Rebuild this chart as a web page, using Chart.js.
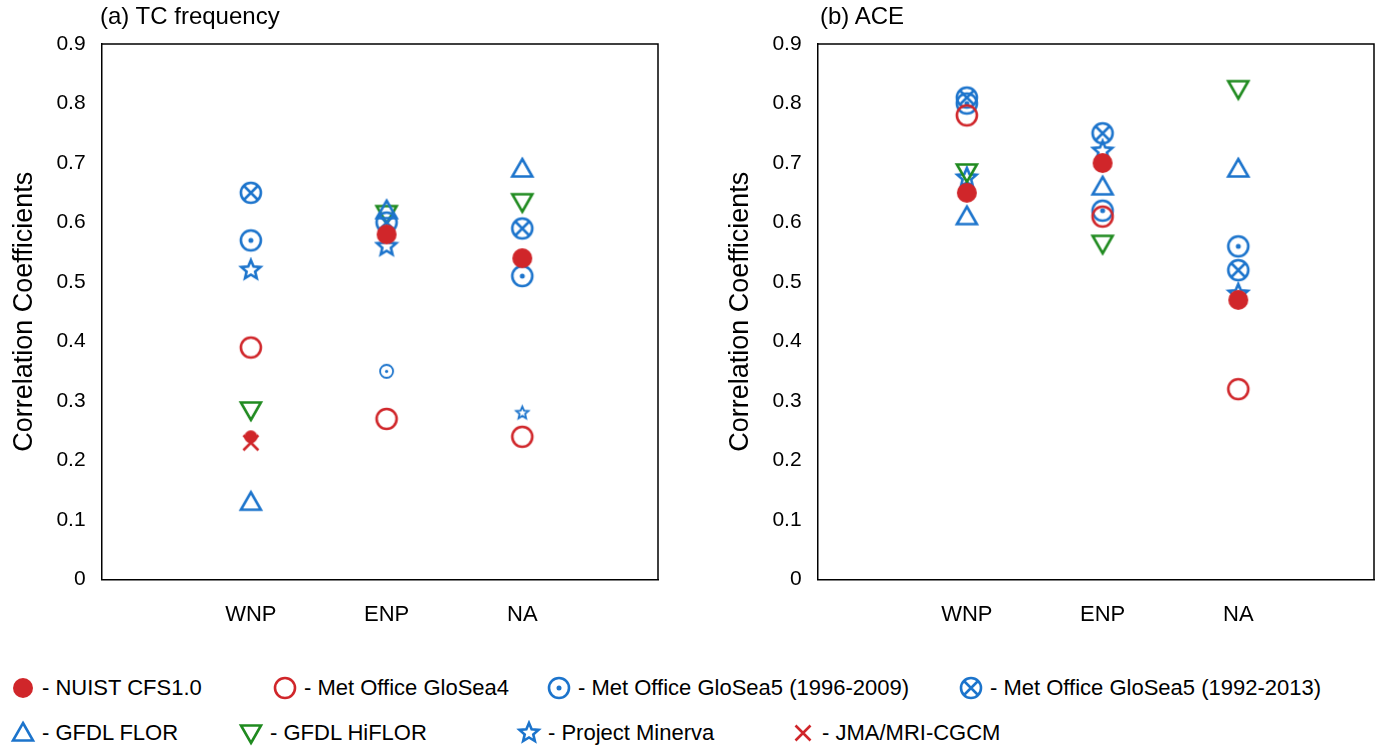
<!DOCTYPE html>
<html><head><meta charset="utf-8">
<script src="https://cdn.jsdelivr.net/npm/chart.js@4/dist/chart.umd.min.js"></script>
<style>
body{margin:0;background:#fff;font-family:"Liberation Sans",Arial,sans-serif;}
.box{position:absolute;top:0;height:650px;width:690px;}
.ttl{position:absolute;top:2px;font-size:24px;color:#000;}
.leg{position:absolute;font-size:22px;display:flex;align-items:center;white-space:nowrap;}
.leg canvas{margin-right:6px;}
</style></head><body>
<div class="box" style="left:0"><canvas id="ca"></canvas></div>
<div class="box" style="left:716px"><canvas id="cb"></canvas></div>
<div class="ttl" style="left:100px">(a) TC frequency</div>
<div class="ttl" style="left:820px">(b) ACE</div>
<div id="legend"></div>
<script>
// categories / models
let regions = ["WNP", "ENP", "NA"];
let models = ["NUIST CFS1.0", "Met Office GloSea4", "Met Office GloSea5 (1996-2009)", "Met Office GloSea5 (1992-2013)",
              "GFDL FLOR", "GFDL HiFLOR", "Project Minerva", "JMA/MRI-CGCM"];

// (a) TC frequency, values per model at WNP, ENP, NA
let freqCFS      = [0.24, 0.58, 0.54];
let freqGS4      = [0.39, 0.27, 0.24];
let freqGS5a     = [0.57, 0.35, 0.51];
let freqGS5b     = [0.65, 0.60, 0.59];
let freqFLOR     = [0.13, 0.62, 0.69];
let freqHiFLOR   = [0.285, 0.615, 0.635];
let freqMinerva  = [0.52, 0.56, 0.28];
let freqJMA      = [0.23, null, null];
// small (insignificant) markers in (a)
let freqSmall = {cfs: [true, false, false], gs5a: [false, true, false], minerva: [false, false, true]};

// (b) ACE
let aceCFS      = [0.65, 0.70, 0.47];
let aceGS4      = [0.78, 0.61, 0.32];
let aceGS5a     = [0.80, 0.62, 0.56];
let aceGS5b     = [0.81, 0.75, 0.52];
let aceFLOR     = [0.61, 0.66, 0.69];
let aceHiFLOR   = [0.685, 0.565, 0.825];
let aceMinerva  = [0.675, 0.72, 0.48];
let aceJMA      = [null, null, null];

let yTicks = [0, 0.1, 0.2, 0.3, 0.4, 0.5, 0.6, 0.7, 0.8, 0.9];

const BLUE = '#1c74cc', RED = '#d0262a', GREEN = '#1f8a1f';

let markerCache = {};
function marker(kind, color, r) {
    let key = kind + color + r;
    if (markerCache[key]) return markerCache[key];
    let s = Math.ceil(r * 2 + 6);
    let c = document.createElement('canvas');
    c.width = s; c.height = s;
    let g = c.getContext('2d');
    let m = s / 2;
    g.strokeStyle = color; g.fillStyle = color;
    g.lineWidth = r > 7 ? 2.6 : 1.8;
    g.beginPath();
    if (kind == 'dot') {
        g.arc(m, m, r, 0, Math.PI * 2); g.fill();
    } else if (kind == 'circle' || kind == 'cdot' || kind == 'cx') {
        g.arc(m, m, r, 0, Math.PI * 2); g.stroke();
        if (kind == 'cdot') { g.beginPath(); g.arc(m, m, r * 0.25, 0, Math.PI * 2); g.fill(); }
        if (kind == 'cx') {
            let d = r * 0.7;
            g.beginPath();
            g.moveTo(m - d, m - d); g.lineTo(m + d, m + d);
            g.moveTo(m + d, m - d); g.lineTo(m - d, m + d);
            g.stroke();
        }
    } else if (kind == 'tri' || kind == 'itri') {
        let sg = kind == 'tri' ? 1 : -1;
        g.moveTo(m, m - sg * r);
        g.lineTo(m + r, m + sg * r * 0.75);
        g.lineTo(m - r, m + sg * r * 0.75);
        g.closePath(); g.stroke();
    } else if (kind == 'star') {
        for (let i = 0; i < 10; i++) {
            let a = -Math.PI / 2 + i * Math.PI / 5;
            let rr = i % 2 == 0 ? r : r * 0.45;
            g.lineTo(m + rr * Math.cos(a), m + rr * Math.sin(a));
        }
        g.closePath(); g.stroke();
    } else if (kind == 'x') {
        let d = r * 0.75;
        g.moveTo(m - d, m - d); g.lineTo(m + d, m + d);
        g.moveTo(m + d, m - d); g.lineTo(m - d, m + d);
        g.stroke();
    }
    markerCache[key] = c;
    return c;
}

let kinds  = ['dot', 'circle', 'cdot', 'cx', 'tri', 'itri', 'star', 'x'];
let colors = [RED, RED, BLUE, BLUE, BLUE, GREEN, BLUE, RED];
const R = 10, RS = 6.5;

let makeDataset = function (i, vals, small) {
    let pts = [], styles = [];
    vals.forEach((v, j) => {
        if (v == null) return;
        pts.push({x: j + 1, y: v});
        styles.push(marker(kinds[i], colors[i], small && small[j] ? RS : R));
    });
    return {label: models[i], data: pts, pointStyle: styles, showLine: false};
}

let drawPanel = function (id, sets) {
    new Chart(document.getElementById(id), {
        type: 'scatter',
        data: {datasets: sets.filter(s => s.data.length > 0)},
        options: {
            animation: false,
            responsive: true,
            maintainAspectRatio: false,
            layout: {padding: {top: 44, right: 32, left: 0, bottom: 0}},
            plugins: {legend: {display: false}, tooltip: {enabled: false}},
            scales: {
                x: {
                    min: -0.1, max: 4.0,
                    afterBuildTicks: ax => { ax.ticks = regions.map((r, i) => ({value: i + 1})); },
                    ticks: {callback: (v, i) => regions[i], color: '#000', font: {size: 22}, padding: 22},
                    grid: {display: false, drawTicks: false},
                    border: {color: '#000', width: 1.5}
                },
                y: {
                    min: 0, max: 0.9,
                    afterBuildTicks: ax => { ax.ticks = yTicks.map(v => ({value: v})); },
                    ticks: {callback: v => String(+v.toFixed(1)), color: '#000', font: {size: 21}, padding: 8},
                    grid: {display: false, drawTicks: true, tickLength: 8, tickColor: '#000', tickWidth: 1.5},
                    border: {color: '#000', width: 1.5},
                    title: {display: true, text: 'Correlation Coefficients', color: '#000', font: {size: 27}, padding: 8}
                }
            }
        },
        plugins: [{
            id: 'frame',
            afterDraw: c => {
                let a = c.chartArea, g = c.ctx;
                g.save(); g.strokeStyle = '#000'; g.lineWidth = 1.5;
                g.beginPath();
                g.moveTo(a.left, a.top); g.lineTo(a.right, a.top); g.lineTo(a.right, a.bottom);
                g.stroke(); g.restore();
            }
        }]
    });
}

drawPanel('ca', [
    makeDataset(0, freqCFS, freqSmall.cfs), makeDataset(1, freqGS4), makeDataset(2, freqGS5a, freqSmall.gs5a),
    makeDataset(3, freqGS5b), makeDataset(4, freqFLOR), makeDataset(5, freqHiFLOR),
    makeDataset(6, freqMinerva, freqSmall.minerva), makeDataset(7, freqJMA)
]);
drawPanel('cb', [
    makeDataset(0, aceCFS), makeDataset(1, aceGS4), makeDataset(2, aceGS5a), makeDataset(3, aceGS5b),
    makeDataset(4, aceFLOR), makeDataset(5, aceHiFLOR), makeDataset(6, aceMinerva), makeDataset(7, aceJMA)
]);

// legend, two rows of four
let legX = [10, 272, 546, 958, 10, 238, 516, 790];
let $leg = document.getElementById('legend');
models.forEach((m, i) => {
    let d = document.createElement('div');
    d.className = 'leg';
    d.style.left = legX[i] + 'px';
    d.style.top = (i < 4 ? 675 : 720) + 'px';
    let c = marker(kinds[i], colors[i], R);
    c.style.width = c.width + 'px';
    d.appendChild(c);
    d.appendChild(document.createTextNode('- ' + m));
    $leg.appendChild(d);
});
</script>
</body></html>
